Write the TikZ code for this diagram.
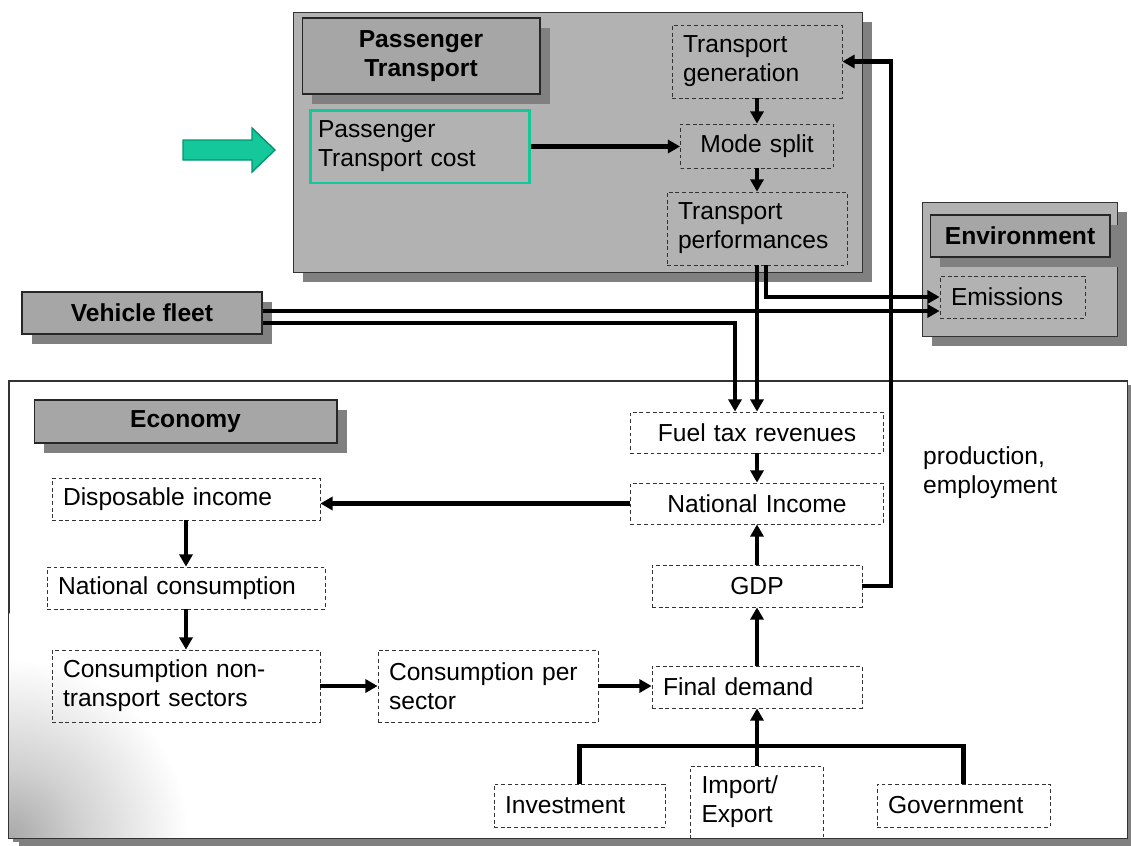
\documentclass[tikz,border=0pt]{standalone}
\usepackage{fontspec}
\setmainfont{Liberation Sans}
\usetikzlibrary{arrows.meta,shadows,calc}

\newcommand\diagfont{\fontsize{14}{16.5}\selectfont}
\colorlet{panel fill}{black!30}
\colorlet{title fill}{black!35}
\colorlet{shadow fill}{black!50}
\definecolor{cost green}{RGB}{20,200,155}
\definecolor{cost edge}{RGB}{0,150,110}
\pgfdeclareradialshading{cornerglow}{\pgfpoint{0bp}{0bp}}{color(0bp)=(black!34); color(8bp)=(black!18);
    color(20bp)=(white); color(50bp)=(white)}
\tikzset{dropped/.style={general shadow={fill=shadow fill, shadow xshift=#1, shadow yshift=-#1}},
    dropped/.default=0.2cm,
    panel/.style={draw=black!80, fill=panel fill, dropped},
    titlebox/.style={draw=black!85, line width=0.6pt, fill=title fill, font=\diagfont\bfseries,
        align=center, inner sep=0pt, dropped},
    dashbox/.style={draw=black!80, dash pattern=on 2.2pt off 1.6pt, line width=0.5pt,
        inner xsep=0.22cm, inner ysep=0pt, align=left},
    costbox/.style={draw=cost green, line width=1.7pt, inner xsep=0.16cm, inner ysep=0pt, align=left},
    link/.style={line width=2.3pt},
    arr/.style={link, -{Triangle[length=7pt, width=7.5pt]}}}

\begin{document}
\begin{tikzpicture}[x=0.02cm, y=-0.02cm, font=\diagfont]
    \useasboundingbox (0,0) rectangle (1131,845);

    \node[panel, fill=white, dropped=0.08cm, minimum width=22.36cm, minimum height=9.14cm] (eco) at (568,609.5) {};
    \begin{scope}
        \clip (eco.south west) rectangle (eco.north east);
        \shade[shading=cornerglow] (eco.south west) circle (4.5cm);
    \end{scope}
    \draw[black!80] (eco.south west) rectangle (eco.north east);

    \node[panel, minimum width=11.38cm, minimum height=5.2cm] (pt) at (577.5,142) {};
    \node[panel, minimum width=3.9cm, minimum height=2.68cm] (env) at (1019.5,269) {};

    \node[titlebox, minimum width=4.76cm, minimum height=1.52cm] (ptt) at (421,56) {Passenger\\Transport};
    \node[titlebox, minimum width=3.6cm, minimum height=0.84cm] (envt) at (1020,236) {Environment};
    \node[titlebox, minimum width=4.8cm, minimum height=0.84cm] (vf) at (142,313) {Vehicle fleet};
    \node[titlebox, minimum width=6.06cm, minimum height=0.86cm] (ecot) at (185.5,421.5) {Economy};

    \draw[draw=cost edge, fill=cost green, line width=0.8pt] (183,140) -- (252,140) -- (252,128) -- (275,150)
        -- (252,172) -- (252,160) -- (183,160) -- cycle;
    \node[costbox, text width=4.08cm, minimum height=1.46cm] (ptcost) at (420,146.5) {Passenger\\Transport cost};

    \node[dashbox, text width=2.96cm, minimum height=1.46cm] (tg) at (757,61.5) {Transport\\generation};
    \node[dashbox, text width=2.62cm, minimum height=0.88cm, align=center] (ms) at (757,146) {Mode split};
    \node[dashbox, text width=3.16cm, minimum height=1.46cm] (tp) at (757,228.5) {Transport\\performances};
    \node[dashbox, text width=2.46cm, minimum height=0.84cm] (em) at (1012.5,297) {Emissions};

    \node[dashbox, text width=4.62cm, minimum height=0.82cm, align=center] (ftr) at (757,432.5) {Fuel tax revenues};
    \node[dashbox, text width=4.62cm, minimum height=0.82cm, align=center] (ni) at (757,503.5) {National Income};
    \node[dashbox, text width=3.76cm, minimum height=0.84cm, align=center] (gdp) at (757,586) {GDP};
    \node[dashbox, text width=3.76cm, minimum height=0.84cm] (fd) at (757,687) {Final demand};
    \node[dashbox, text width=4.92cm, minimum height=0.84cm] (di) at (186,499) {Disposable income};
    \node[dashbox, text width=5.12cm, minimum height=0.84cm] (nc) at (186,588) {National consumption};
    \node[dashbox, text width=4.92cm, minimum height=1.44cm] (cnt) at (186,686) {Consumption non-\\transport sectors};
    \node[dashbox, text width=3.96cm, minimum height=1.44cm] (cps) at (488,686) {Consumption per\\sector};
    \node[dashbox, text width=2.98cm, minimum height=0.86cm] (inv) at (579.5,805.5) {Investment};
    \node[dashbox, text width=2.22cm, minimum height=1.44cm] (ie) at (757,802) {Import/\\Export};
    \node[dashbox, text width=3.02cm, minimum height=0.86cm] (gov) at (963.5,805.5) {Government};
    \node[align=left, anchor=west] (prod) at (917,472.5) {production,\\employment};

    \draw[arr] (ptcost.east) -- (ptcost.east -| ms.west);
    \draw[arr] (tg) -- (ms);
    \draw[arr] (ms) -- (tp);
    \draw[arr] (tp) -- (ftr);
    \draw[arr] ($(tp.south)+(9,0)$) |- (em.west);
    \draw[arr] ($(vf.east)+(0,-2)$) -- ($(em.west)+(0,14)$);
    \draw[arr] ($(vf.east)+(0,10)$) -| ($(ftr.north)+(-22,0)$);
    \draw[arr] (ftr) -- (ni);
    \draw[arr] (ni.west) -- (ni.west -| di.east);
    \draw[arr] (gdp) -- (ni);
    \draw[arr] (gdp.east) -- ++(29,0) |- (tg.east);
    \draw[arr] (di) -- (nc);
    \draw[arr] (nc) -- (cnt);
    \draw[arr] (cnt) -- (cps);
    \draw[arr] (cps.east) -- (cps.east -| fd.west);
    \draw[arr] (fd) -- (gdp);
    \coordinate (bus) at (757,746);
    \draw[link] (inv.north) |- (bus) -| (gov.north);
    \draw[arr] (ie) -- (fd);
\end{tikzpicture}
\end{document}
